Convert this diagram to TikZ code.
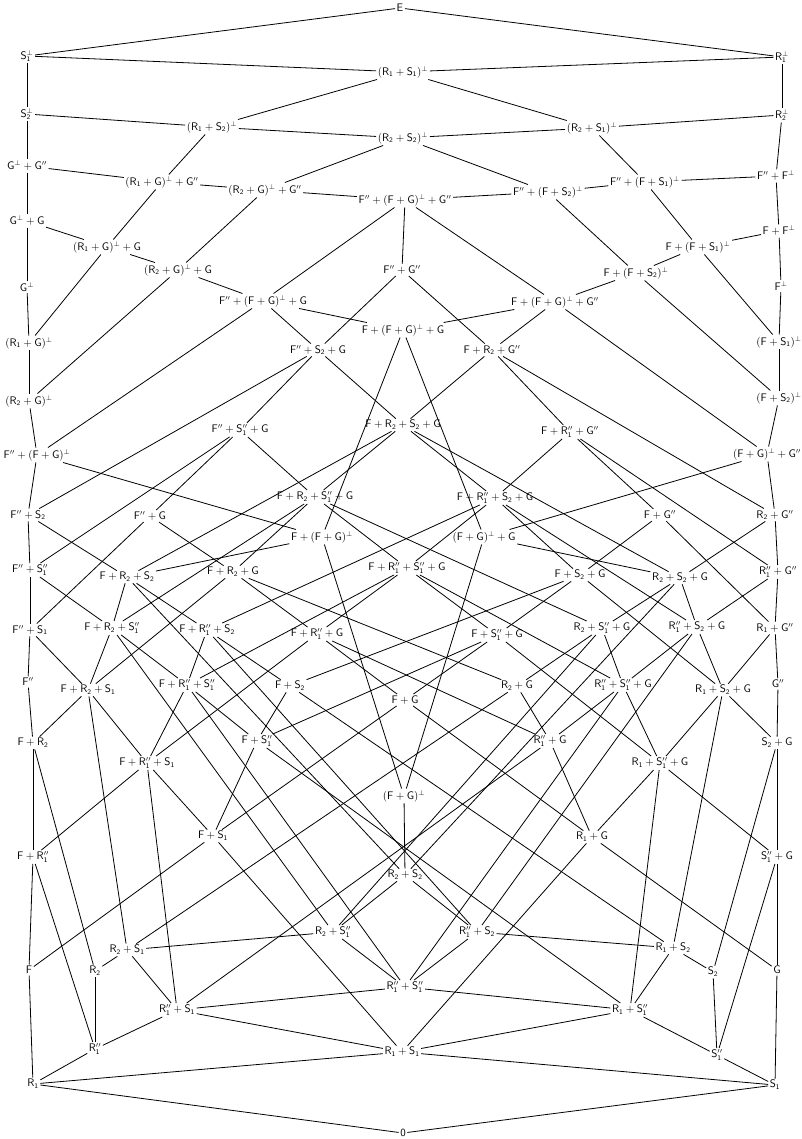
\documentclass[tikz,border=0pt]{standalone}
\newcommand{\mynode}[4]{\node[lab] (#1) at (#2,#3) {$\mathsf{#4}$};}
\begin{document}
\begin{tikzpicture}[x=1pt,y=-1pt,
  lab/.style={inner sep=1.5pt, font=\fontsize{10.5}{12}\selectfont},
  edge/.style={line width=0.8pt}]
\fill[white] (0,0) rectangle (801,1139);
\useasboundingbox (0,0) rectangle (801,1139);
% upper grid
\mynode{U00}{400}{8}{E}
\mynode{U10}{782}{57}{R_1^{\perp}}
\mynode{U20}{782}{115}{R_2^{\perp}}
\mynode{U30}{776}{176}{F''+F^{\perp}}
\mynode{U40}{779}{231}{F+F^{\perp}}
\mynode{U50}{781}{286}{F^{\perp}}
\mynode{U01}{27}{56}{S_1^{\perp}}
\mynode{U11}{403}{72}{(R_1+S_1)^{\perp}}
\mynode{U21}{592}{128}{(R_2+S_1)^{\perp}}
\mynode{U31}{645}{182}{F''+(F+S_1)^{\perp}}
\mynode{U41}{698}{247}{F+(F+S_1)^{\perp}}
\mynode{U51}{779}{342}{(F+S_1)^{\perp}}
\mynode{U02}{27}{114}{S_2^{\perp}}
\mynode{U12}{212}{127}{(R_1+S_2)^{\perp}}
\mynode{U22}{403}{138}{(R_2+S_2)^{\perp}}
\mynode{U32}{548}{192}{F''+(F+S_2)^{\perp}}
\mynode{U42}{636}{273}{F+(F+S_2)^{\perp}}
\mynode{U52}{779}{398}{(F+S_2)^{\perp}}
\mynode{U03}{27}{166}{G^{\perp}+G''}
\mynode{U13}{162}{182}{(R_1+G)^{\perp}+G''}
\mynode{U23}{265}{190}{(R_2+G)^{\perp}+G''}
\mynode{U33}{405}{200}{F''+(F+G)^{\perp}+G''}
\mynode{U43}{555}{302}{F+(F+G)^{\perp}+G''}
\mynode{U53}{767}{454}{(F+G)^{\perp}+G''}
\mynode{U04}{27}{221}{G^{\perp}+G}
\mynode{U14}{107}{247}{(R_1+G)^{\perp}+G}
\mynode{U24}{178}{270}{(R_2+G)^{\perp}+G}
\mynode{U34}{263}{301}{F''+(F+G)^{\perp}+G}
\mynode{U44}{403}{330}{F+(F+G)^{\perp}+G}
\mynode{U54}{484}{537}{(F+G)^{\perp}+G}
\mynode{U05}{27}{287}{G^{\perp}}
\mynode{U15}{29}{343}{(R_1+G)^{\perp}}
\mynode{U25}{29}{401}{(R_2+G)^{\perp}}
\mynode{U35}{37}{455}{F''+(F+G)^{\perp}}
\mynode{U45}{322}{537}{F+(F+G)^{\perp}}
\mynode{U55}{404}{796}{(F+G)^{\perp}}
% lower product
\mynode{L00}{403}{1133}{0}
\mynode{L10}{33}{1084}{R_1}
\mynode{L20}{95}{1049}{R_1''}
\mynode{L30}{95}{971}{R_2}
\mynode{L40}{29}{970}{F}
\mynode{L50}{33}{857}{F+R_1''}
\mynode{L60}{33}{743}{F+R_2}
\mynode{L70}{28}{682}{F''}
\mynode{L01}{775}{1085}{S_1}
\mynode{L11}{402}{1052}{R_1+S_1}
\mynode{L21}{177}{1010}{R_1''+S_1}
\mynode{L31}{127}{950}{R_2+S_1}
\mynode{L41}{213}{836}{F+S_1}
\mynode{L51}{147}{763}{F+R_1''+S_1}
\mynode{L61}{88}{690}{F+R_2+S_1}
\mynode{L71}{30}{630}{F''+S_1}
\mynode{L02}{717}{1055}{S_1''}
\mynode{L12}{630}{1010}{R_1+S_1''}
\mynode{L22}{405}{987}{R_1''+S_1''}
\mynode{L32}{333}{932}{R_2+S_1''}
\mynode{L42}{257}{741}{F+S_1''}
\mynode{L52}{187}{685}{F+R_1''+S_1''}
\mynode{L62}{112}{628}{F+R_2+S_1''}
\mynode{L72}{30}{570}{F''+S_1''}
\mynode{L03}{713}{972}{S_2}
\mynode{L13}{673}{948}{R_1+S_2}
\mynode{L23}{477}{932}{R_1''+S_2}
\mynode{L33}{405}{875}{R_2+S_2}
\mynode{L43}{290}{686}{F+S_2}
\mynode{L53}{207}{630}{F+R_1''+S_2}
\mynode{L63}{127}{577}{F+R_2+S_2}
\mynode{L73}{28}{515}{F''+S_2}
\mynode{L04}{777}{970}{G}
\mynode{L14}{592}{837}{R_1+G}
\mynode{L24}{550}{741}{R_1''+G}
\mynode{L34}{517}{686}{R_2+G}
\mynode{L44}{405}{700}{F+G}
\mynode{L54}{317}{634}{F+R_1''+G}
\mynode{L64}{233}{572}{F+R_2+G}
\mynode{L74}{150}{516}{F''+G}
\mynode{L05}{777}{857}{S_1''+G}
\mynode{L15}{660}{763}{R_1+S_1''+G}
\mynode{L25}{623}{685}{R_1''+S_1''+G}
\mynode{L35}{602}{628}{R_2+S_1''+G}
\mynode{L45}{497}{635}{F+S_1''+G}
\mynode{L55}{407}{568}{F+R_1''+S_1''+G}
\mynode{L65}{315}{497}{F+R_2+S_1''+G}
\mynode{L75}{240}{430}{F''+S_1''+G}
\mynode{L06}{777}{743}{S_2+G}
\mynode{L16}{723}{690}{R_1+S_2+G}
\mynode{L26}{697}{627}{R_1''+S_2+G}
\mynode{L36}{680}{578}{R_2+S_2+G}
\mynode{L46}{580}{575}{F+S_2+G}
\mynode{L56}{495}{498}{F+R_1''+S_2+G}
\mynode{L66}{403}{425}{F+R_2+S_2+G}
\mynode{L76}{318}{350}{F''+S_2+G}
\mynode{L07}{778}{684}{G''}
\mynode{L17}{775}{628}{R_1+G''}
\mynode{L27}{778}{572}{R_1''+G''}
\mynode{L37}{775}{515}{R_2+G''}
\mynode{L47}{660}{515}{F+G''}
\mynode{L57}{570}{432}{F+R_1''+G''}
\mynode{L67}{492}{350}{F+R_2+G''}
\mynode{L77}{402}{270}{F''+G''}
% edges of lower product
\foreach \i/\j in {0/1,1/2,1/4,2/3,2/5,4/5,3/6,5/6,6/7}{
  \foreach \b in {0,...,7}{
    \draw[edge] (L\i\b) -- (L\j\b);
    \draw[edge] (L\b\i) -- (L\b\j);
  }
}
% edges of upper grid
\foreach \i [evaluate=\i as \k using int(\i+1)] in {0,...,4}{
  \foreach \j in {0,...,5}{
    \draw[edge] (U\i\j) -- (U\k\j);
    \draw[edge] (U\j\i) -- (U\j\k);
  }
}
% connections
\foreach \u/\l in {33/77,34/76,35/73,43/67,45/63,53/37,54/36,55/33}{
  \draw[edge] (U\u) -- (L\l);
}
\end{tikzpicture}
\end{document}
